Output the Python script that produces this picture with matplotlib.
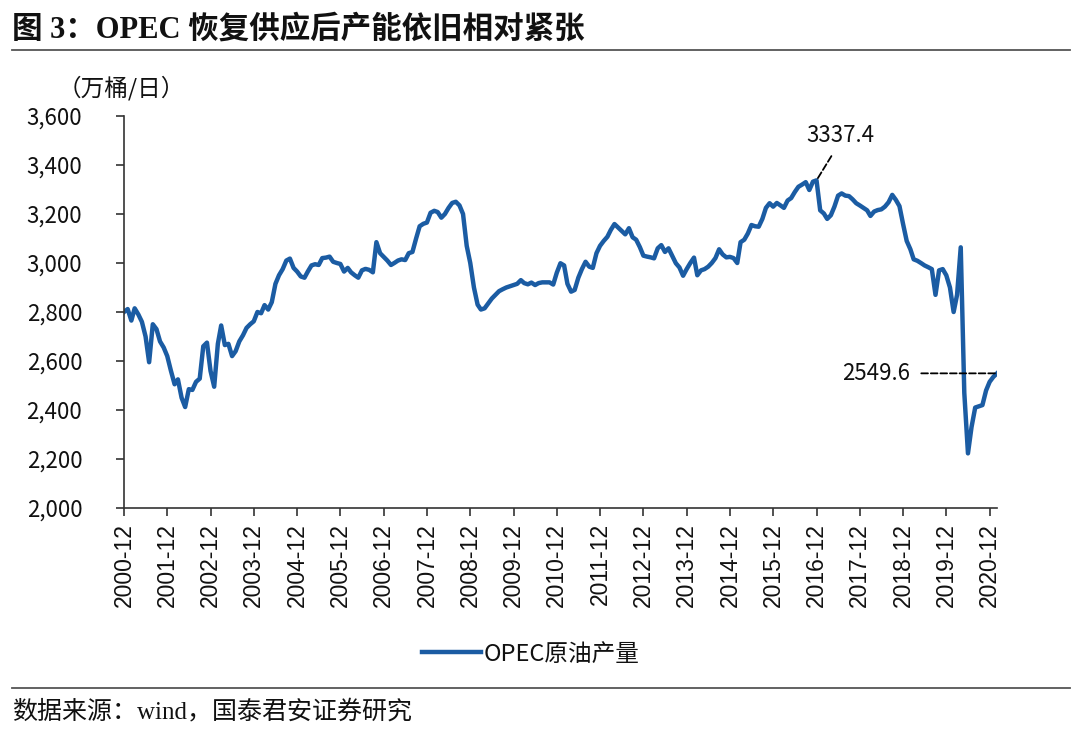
import matplotlib
matplotlib.use('Agg')
import matplotlib.pyplot as plt
import matplotlib.dates as mdates
import matplotlib.ticker as mticker
import pandas as pd

CJK = ['Noto Sans CJK SC', 'DejaVu Sans']
plt.rcParams['font.family'] = CJK

# OPEC crude output, monthly, 2000-12 .. 2021-02 (万桶/日)
y2000 = [2800]
y2001 = [2812, 2765, 2815, 2790, 2760, 2700, 2595, 2750, 2730, 2680, 2655, 2620]
y2002 = [2560, 2505, 2525, 2450, 2412, 2485, 2482, 2515, 2528, 2660, 2675, 2560]
y2003 = [2495, 2670, 2745, 2665, 2670, 2620, 2640, 2680, 2705, 2735, 2750, 2762]
y2004 = [2800, 2795, 2828, 2810, 2840, 2915, 2950, 2975, 3010, 3018, 2980, 2965]
y2005 = [2945, 2940, 2965, 2990, 2995, 2992, 3020, 3022, 3026, 3005, 3000, 2996]
y2006 = [2965, 2980, 2962, 2950, 2940, 2970, 2976, 2972, 2962, 3085, 3040, 3025]
y2007 = [3010, 2992, 3000, 3010, 3015, 3012, 3040, 3045, 3100, 3150, 3160, 3165]
y2008 = [3205, 3213, 3208, 3185, 3200, 3225, 3245, 3250, 3235, 3200, 3070, 3000]
y2009 = [2900, 2830, 2810, 2815, 2835, 2855, 2870, 2885, 2893, 2900, 2905, 2910]
y2010 = [2915, 2930, 2918, 2913, 2920, 2910, 2918, 2921, 2921, 2921, 2912, 2960]
y2011 = [2999, 2990, 2915, 2883, 2890, 2940, 2975, 3005, 2985, 2980, 3040, 3070]
y2012 = [3090, 3107, 3135, 3159, 3145, 3130, 3117, 3142, 3105, 3095, 3065, 3030]
y2013 = [3026, 3023, 3019, 3060, 3073, 3045, 3060, 3030, 2999, 2982, 2948, 2975]
y2014 = [3000, 3022, 2950, 2970, 2975, 2985, 3000, 3020, 3056, 3035, 3023, 3025]
y2015 = [3020, 3000, 3085, 3095, 3120, 3155, 3150, 3148, 3180, 3225, 3244, 3230]
y2016 = [3245, 3235, 3225, 3255, 3265, 3290, 3311, 3320, 3330, 3298, 3332, 3337.4]
y2017 = [3215, 3202, 3180, 3195, 3230, 3275, 3284, 3275, 3273, 3260, 3244, 3235]
y2018 = [3225, 3215, 3192, 3210, 3216, 3219, 3230, 3248, 3278, 3258, 3232, 3160]
y2019 = [3090, 3056, 3015, 3009, 3000, 2990, 2983, 2975, 2870, 2970, 2975, 2950]
y2020 = [2900, 2800, 2870, 3064, 2470, 2223, 2330, 2410, 2415, 2420, 2480, 2515]
y2021 = [2535, 2549.6]

opec = (y2000 + y2001 + y2002 + y2003 + y2004 + y2005 + y2006 + y2007 + y2008
        + y2009 + y2010 + y2011 + y2012 + y2013 + y2014 + y2015 + y2016
        + y2017 + y2018 + y2019 + y2020 + y2021)
months = pd.date_range('2000-12-01', periods=len(opec), freq='MS')

yticks = list(range(2000, 3601, 200))
xticks = pd.date_range('2000-12-01', '2020-12-01', freq='12MS')

line_color = '#1b5ca3'

fig = plt.figure(figsize=(10.8, 7.4), dpi=100)
ax = fig.add_axes([124/1080, 1-508/740, (997-124)/1080, (508-116)/740])

ax.plot(months, opec, color=line_color, lw=3.2, solid_joinstyle='round',
        label='OPEC原油产量')

ax.set_ylim(2000, 3600)
ax.set_xlim(months[0], months[-1])
ax.set_yticks(yticks)
ax.yaxis.set_major_formatter(mticker.FuncFormatter(lambda v, p: f'{int(v):,}'))
ax.set_xticks(xticks)
ax.xaxis.set_major_formatter(mdates.DateFormatter('%Y-%m'))

for s in ['top', 'right']:
    ax.spines[s].set_visible(False)
for s in ['left', 'bottom']:
    ax.spines[s].set_color('#333333')
    ax.spines[s].set_linewidth(1.2)

ax.tick_params(axis='y', direction='out', length=6, width=1.2, color='#333333',
               pad=24, labelsize=16, labelcolor='#111111')
ax.tick_params(axis='x', direction='out', length=6, width=1.2, color='#333333',
               pad=5, labelsize=16.5, labelcolor='#111111')
for lab in ax.get_xticklabels():
    lab.set_rotation(90)
    lab.set_family(['Liberation Sans', 'DejaVu Sans'])

# annotations
i_peak = opec.index(3337.4)
ax.annotate('3337.4', xy=(months[i_peak], opec[i_peak]), xytext=(17, 32),
            textcoords='offset points', ha='center', va='center', fontsize=16,
            color='#111111',
            arrowprops=dict(arrowstyle='-', linestyle='--', color='black',
                            lw=1.3, shrinkA=5, shrinkB=1, relpos=(0.45, 0)))
ax.annotate('2549.6', xy=(months[-1], opec[-1]), xytext=(-87, 0),
            textcoords='offset points', ha='center', va='center', fontsize=16,
            color='#111111',
            arrowprops=dict(arrowstyle='-', linestyle='--', color='black',
                            lw=1.3, shrinkA=6, shrinkB=1))

# title, unit, source
fig.text(12/1080, 1-30/740, '图 3：OPEC 恢复供应后产能依旧相对紧张',
         family=['Liberation Serif', 'Noto Sans CJK SC'], fontweight='bold',
         fontsize=22, ha='left', va='center', color='#111111')
fig.add_artist(plt.Line2D([12/1080, 1070/1080], [1-50/740, 1-50/740],
                          color='#555555', lw=1.3))
fig.text(58/1080, 1-88/740, '（万桶/日）', fontsize=17, ha='left', va='center',
         color='#111111')

leg = fig.legend(loc='center', bbox_to_anchor=(531/1080, 1-654/740),
                 frameon=False, fontsize=17, handlelength=2.5,
                 handletextpad=0.1)
for t in leg.get_texts():
    t.set_color('#111111')

fig.add_artist(plt.Line2D([12/1080, 1070/1080], [1-688/740, 1-688/740],
                          color='#555555', lw=1.3))
fig.text(12/1080, 1-712/740, '数据来源：wind，国泰君安证券研究',
         family=['Liberation Serif', 'Noto Sans CJK SC'], fontsize=18,
         ha='left', va='center', color='#111111')

fig.savefig('out.png', dpi=100)
